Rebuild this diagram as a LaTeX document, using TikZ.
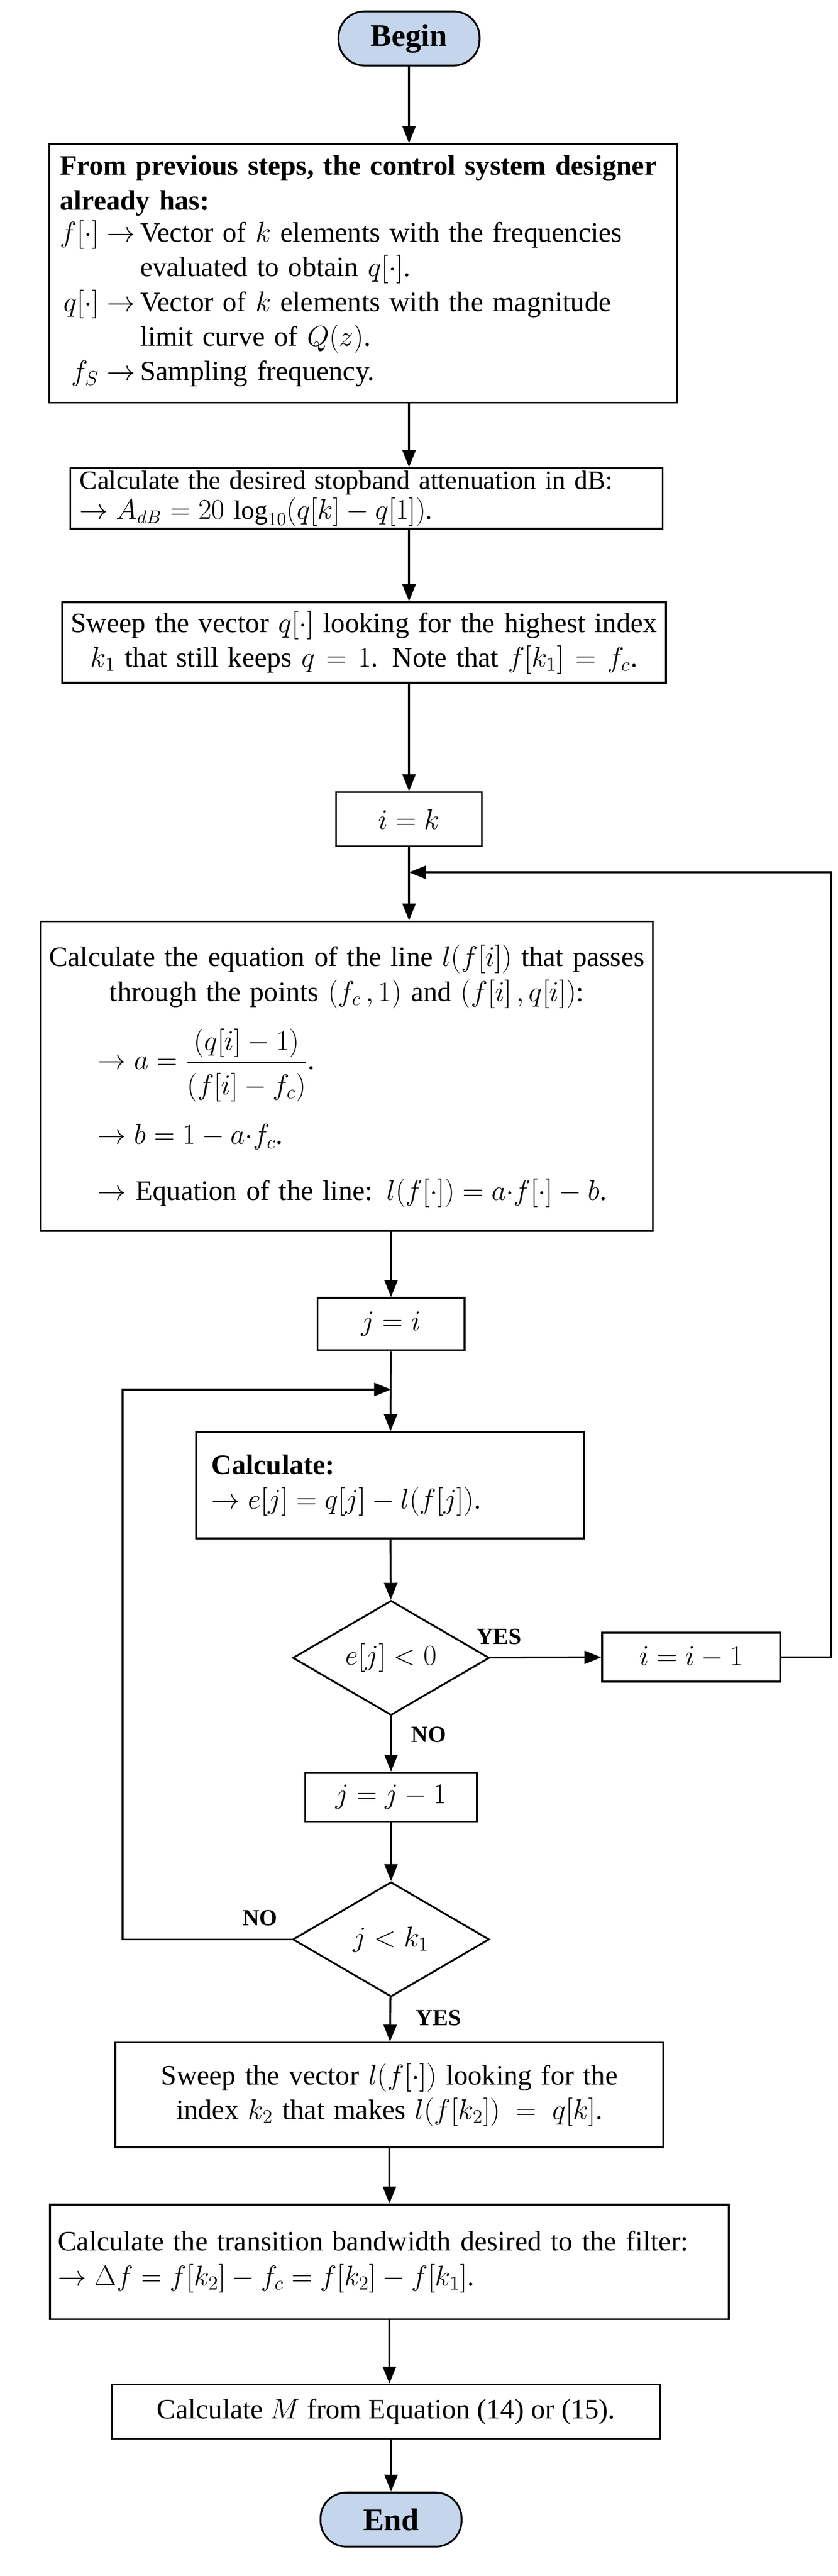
\documentclass[tikz,border=0pt]{standalone}
\usepackage{fontspec}
\usepackage{amsmath}
\setmainfont{Liberation Serif}
\usetikzlibrary{shapes.geometric,arrows.meta,positioning}
\definecolor{termblue}{RGB}{197,213,235}
\begin{document}
\begin{tikzpicture}[x=0.0348cm,y=-0.0348cm]
        % Define styles
        \tikzset{
            every node/.style={font=\fontsize{17}{21}\selectfont},
            term/.style={rectangle, rounded corners=0.55cm, draw, line width=1.1pt, fill=termblue, minimum width=3cm, minimum height=1.15cm, font=\fontsize{19}{22}\selectfont\bfseries},
            box/.style={rectangle, draw, line width=1.1pt, inner sep=0pt},
            test/.style={diamond, draw, line width=1.1pt, aspect=1.71, inner sep=0pt, minimum width=4.18cm, minimum height=2.44cm},
            tag/.style={font=\fontsize{14}{16}\selectfont\bfseries},
            arrow/.style={-{Triangle[length=0.36cm,width=0.28cm]}, line width=1.1pt}
        }
        \useasboundingbox (0,0) rectangle (512,1574);

        % Nodes
        \node[term] (begin) at (250,23.5) {Begin};
        \node[box, minimum width=13.36cm, minimum height=5.5cm, text width=12.9cm, align=left] (given) at (222,167) {%
            \textbf{From previous steps, the control system designer}\\
            \textbf{already has:}\\
            \begin{tabular}{@{}r@{\,}l@{}}
            $f[\cdot]\rightarrow$ & Vector of $k$ elements with the frequencies\\
             & evaluated to obtain $q[\cdot]$.\\
            $q[\cdot]\rightarrow$ & Vector of $k$ elements with the magnitude\\
             & limit curve of $Q(z)$.\\
            $f_S\rightarrow$ & Sampling frequency.
            \end{tabular}};
        \node[box, minimum width=12.6cm, minimum height=1.29cm, text width=12.2cm, align=left, font=\fontsize{16}{18}\selectfont] (atten) at (224,304.5) {%
            Calculate the desired stopband attenuation in dB:\\
            $\rightarrow A_{dB} = 20\,\log_{10}(q[k]-q[1])$.};
        \node[box, minimum width=12.84cm, minimum height=1.71cm, text width=12.7cm, align=center] (sweepq) at (222.5,392.5) {%
            Sweep the vector $q[\cdot]$ looking for the highest index\\
            $k_1$ that still keeps $q=1$. Note that $f[k_1]=f_c$.};
        \node[box, minimum width=3.1cm, minimum height=1.15cm] (iset) at (250,500.5) {$i=k$};
        \node[box, minimum width=13.02cm, minimum height=6.58cm, text width=12.8cm, align=left] (line) at (212,657.5) {%
            {\centering Calculate the equation of the line $l(f[i])$ that passes\\
            through the points $(f_c\,,1)$ and $(f[i]\,,q[i])$:\par}
            \vspace{0.4cm}
            \hspace*{1.1cm}$\rightarrow a = \dfrac{(q[i]-1)}{\rule{0pt}{0.6cm}(f[i]-f_c)}$.\\[0.45cm]
            \hspace*{1.1cm}$\rightarrow b = 1 - a{\cdot}f_c$.\\[0.45cm]
            \hspace*{1.1cm}$\rightarrow$ Equation of the line: $l(f[\cdot]) = a{\cdot}f[\cdot]-b$.};
        \node[box, minimum width=3.13cm, minimum height=1.11cm] (jset) at (239,809) {$j=i$};
        \node[box, minimum width=8.25cm, minimum height=2.26cm, text width=7.6cm, align=left] (err) at (238.5,907.5) {%
            \textbf{Calculate:}\\
            $\rightarrow e[j] = q[j] - l(f[j])$.};
        \node[test] (neg) at (239,1013) {$e[j]<0$};
        \node[box, minimum width=3.79cm, minimum height=1.04cm] (idec) at (422.5,1012.5) {$i=i-1$};
        \node[box, minimum width=3.65cm, minimum height=1.04cm] (jdec) at (239,1098) {$j=j-1$};
        \node[test] (stop) at (239,1185) {$j<k_1$};
        \node[box, minimum width=11.66cm, minimum height=2.23cm, text width=11.4cm, align=center] (sweepl) at (238,1280) {%
            Sweep the vector $l(f[\cdot])$ looking for the\\
            index $k_2$ that makes $l(f[k_2]) = q[k]$.};
        \node[box, minimum width=14.44cm, minimum height=2.44cm, text width=14.1cm, align=left] (band) at (238,1382) {%
            Calculate the transition bandwidth desired to the filter:\\
            $\rightarrow \Delta f = f[k_2] - f_c = f[k_2] - f[k_1]$.};
        \node[box, minimum width=11.66cm, minimum height=1.15cm] (order) at (236,1473.5) {Calculate $M$ from Equation (14) or (15).};
        \node[term] (end) at (239,1539.5) {End};

        \coordinate (jn) at (250,533);
        \coordinate (rt) at (508,533);
        \coordinate (jn2) at (239,849);
        \coordinate (lt) at (75,849);

        % Arrows
        \draw[arrow] (begin) -- (given.north -| begin);
        \draw[arrow] (given.south -| begin) -- (atten.north -| begin);
        \draw[arrow] (atten.south -| begin) -- (sweepq.north -| begin);
        \draw[arrow] (sweepq.south -| begin) -- (iset);
        \draw[arrow] (iset) -- (line.north -| iset);
        \draw[arrow] (line.south -| jset) -- (jset);
        \draw[arrow] (jset) -- (err);
        \draw[arrow] (err) -- (neg);
        \draw[arrow] (neg) -- (idec);
        \draw[arrow] (neg) -- (jdec);
        \draw[arrow] (jdec) -- (stop);
        \draw[arrow] (stop) -- (sweepl);
        \draw[arrow] (sweepl) -- (band);
        \draw[arrow] (band) -- (order.north -| band);
        \draw[arrow] (order.south -| end) -- (end);
        \draw[arrow] (idec.east) -| (rt) -- (jn);
        \draw[arrow] (stop.west) -| (lt) -- (jn2);

        % Labels
        \node[tag] (yes1) at (305,1000) {YES};
        \node[tag] (no1) at (262,1060) {NO};
        \node[tag] (no2) at (159,1172) {NO};
        \node[tag] (yes2) at (268,1233) {YES};
    \end{tikzpicture}
\end{document}
